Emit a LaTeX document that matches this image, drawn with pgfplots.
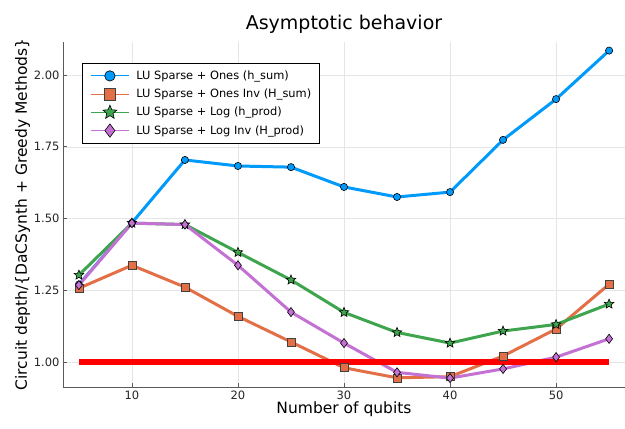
\documentclass[border=0pt]{standalone}
\usepackage{pgfplots}
\pgfplotsset{compat=1.18}
\usepackage{fontspec}
\setmainfont{DejaVu Sans}
\usetikzlibrary{plotmarks,calc}
\definecolor{c1}{RGB}{0,154,250}
\definecolor{c2}{RGB}{227,111,71}
\definecolor{c3}{RGB}{62,164,78}
\definecolor{c4}{RGB}{195,113,210}
\definecolor{spine}{RGB}{90,90,90}
\pgfdeclareplotmark{fstar}{%
 \pgfpathmoveto{\pgfpointpolar{90}{\pgfplotmarksize}}%
 \pgfpathlineto{\pgfpointpolar{126}{0.45\pgfplotmarksize}}%
 \pgfpathlineto{\pgfpointpolar{162}{\pgfplotmarksize}}%
 \pgfpathlineto{\pgfpointpolar{198}{0.45\pgfplotmarksize}}%
 \pgfpathlineto{\pgfpointpolar{234}{\pgfplotmarksize}}%
 \pgfpathlineto{\pgfpointpolar{270}{0.45\pgfplotmarksize}}%
 \pgfpathlineto{\pgfpointpolar{306}{\pgfplotmarksize}}%
 \pgfpathlineto{\pgfpointpolar{342}{0.45\pgfplotmarksize}}%
 \pgfpathlineto{\pgfpointpolar{18}{\pgfplotmarksize}}%
 \pgfpathlineto{\pgfpointpolar{54}{0.45\pgfplotmarksize}}%
 \pgfpathclose
 \pgfusepathqfillstroke}
\begin{document}
\begin{tikzpicture}
\begin{axis}[
  scale only axis,
  width=562pt, height=345pt,
  xmin=3.5, xmax=56.5, ymin=0.913, ymax=2.115,
  axis x line*=bottom, axis y line*=left,
  axis line style={spine, line width=0.9pt, -},
  xtick={10,20,30,40,50},
  ytick={1,1.25,1.5,1.75,2},
  yticklabel style={/pgf/number format/.cd, fixed, fixed zerofill, precision=2},
  /pgf/number format/assume math mode=true,
  tick label style={font=\fontsize{11.5}{13}\selectfont, text=black!85},
  tick style={spine, line width=0.6pt},
  tick align=inside,
  major tick length=4pt,
  grid=major,
  grid style={black!10, line width=0.5pt},
  title={Asymptotic behavior},
  title style={font=\fontsize{19}{22}\selectfont, yshift=-1pt},
  xlabel={Number of qubits},
  ylabel={Circuit depth/\{DaCSynth + Greedy Methods\}},
  label style={font=\fontsize{15.5}{18}\selectfont},
  xlabel style={yshift=4pt},
  ylabel style={yshift=-3pt},
  legend style={at={(rel axis cs:0.034,0.939)}, anchor=north west,
    font=\fontsize{11.4}{13}\selectfont, draw=black, line width=0.6pt,
    row sep=4pt, inner xsep=6pt, inner ysep=5.5pt},
  legend cell align=left,
  legend image code/.code={\path (-1pt,0pt) (42pt,0pt);\draw[#1, line width=0.9pt, mark repeat=2, mark phase=2, every mark/.append style={scale=1.45}] plot coordinates {(0pt,0pt) (19pt,0pt) (38pt,0pt)};},
]
\coordinate (bl) at (rel axis cs:0,0);
\coordinate (tr) at (rel axis cs:1,1);
\addplot[c1, line width=3pt, mark=*, mark size=3.6pt, mark options={fill=c1, draw=black, line width=0.6pt}] coordinates {
(5,1.27) (10,1.485) (15,1.704) (20,1.683) (25,1.679) (30,1.610) (35,1.575) (40,1.592) (45,1.774) (50,1.916) (55,2.085)};
\addlegendentry{LU Sparse + Ones (h\_sum)}
\addplot[c2, line width=3pt, mark=square*, mark size=4pt, mark options={fill=c2, draw=black!75, line width=0.6pt}] coordinates {
(5,1.257) (10,1.337) (15,1.261) (20,1.159) (25,1.070) (30,0.980) (35,0.945) (40,0.949) (45,1.021) (50,1.115) (55,1.271)};
\addlegendentry{LU Sparse + Ones Inv (H\_sum)}
\addplot[c3, line width=3pt, mark=fstar, mark size=5pt, mark options={fill=c3, draw=black, line width=0.6pt}] coordinates {
(5,1.303) (10,1.484) (15,1.479) (20,1.382) (25,1.286) (30,1.173) (35,1.103) (40,1.066) (45,1.108) (50,1.131) (55,1.202)};
\addlegendentry{LU Sparse + Log (h\_prod)}
\addplot[c4, line width=3pt, mark=diamond*, mark size=4.6pt, mark options={fill=c4, draw=black, line width=0.6pt}] coordinates {
(5,1.268) (10,1.484) (15,1.479) (20,1.337) (25,1.174) (30,1.066) (35,0.964) (40,0.944) (45,0.976) (50,1.017) (55,1.081)};
\addlegendentry{LU Sparse + Log Inv (H\_prod)}
\addplot[red, line width=5.5pt, forget plot] coordinates {(5,1.0) (55,1.0)};
\end{axis}
\pgfresetboundingbox
\path[use as bounding box] ($(bl)+(-63pt,-41pt)$) rectangle ($(tr)+(0pt,42pt)$);
\end{tikzpicture}
\end{document}
